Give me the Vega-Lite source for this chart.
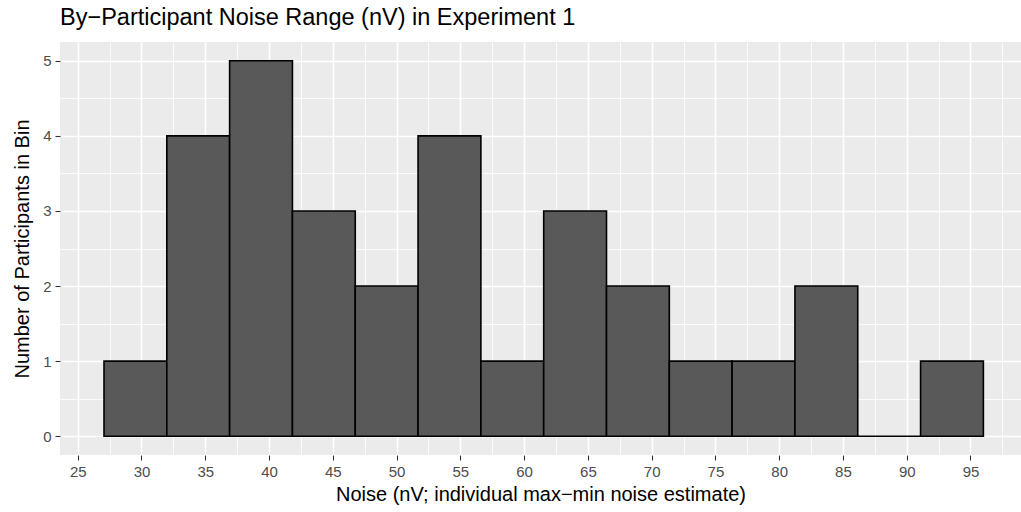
{
  "$schema": "https://vega.github.io/schema/vega-lite/v6.json",
  "width": 961,
  "height": 413,
  "autosize": {"type": "none"},
  "padding": {"left": 60, "top": 42, "right": 0, "bottom": 57},
  "background": "white",
  "title": {
    "text": "By−Participant Noise Range (nV) in Experiment 1",
    "anchor": "start",
    "frame": "group",
    "font": "Liberation Sans",
    "fontSize": 23.5,
    "fontWeight": "normal",
    "color": "black",
    "baseline": "alphabetic",
    "offset": 16,
    "dy": 22
  },
  "config": {
    "view": {"fill": "#EBEBEB", "stroke": null},
    "axis": {
      "domain": false,
      "gridColor": "white",
      "tickColor": "#333333",
      "tickWidth": 1.1,
      "tickSize": 5,
      "labelColor": "#4D4D4D",
      "labelFont": "Liberation Sans",
      "labelFontSize": 15,
      "labelPadding": 4,
      "titleFont": "Liberation Sans",
      "titleFontSize": 20,
      "titleFontWeight": "normal",
      "titleColor": "black"
    }
  },
  "data": {
    "values": [
      {"bin_start": 27.06, "bin_end": 31.985, "count": 1},
      {"bin_start": 31.985, "bin_end": 36.91, "count": 4},
      {"bin_start": 36.91, "bin_end": 41.835, "count": 5},
      {"bin_start": 41.835, "bin_end": 46.76, "count": 3},
      {"bin_start": 46.76, "bin_end": 51.685, "count": 2},
      {"bin_start": 51.685, "bin_end": 56.61, "count": 4},
      {"bin_start": 56.61, "bin_end": 61.535, "count": 1},
      {"bin_start": 61.535, "bin_end": 66.46, "count": 3},
      {"bin_start": 66.46, "bin_end": 71.385, "count": 2},
      {"bin_start": 71.385, "bin_end": 76.31, "count": 1},
      {"bin_start": 76.31, "bin_end": 81.235, "count": 1},
      {"bin_start": 81.235, "bin_end": 86.16, "count": 2},
      {"bin_start": 86.16, "bin_end": 91.085, "count": 0},
      {"bin_start": 91.085, "bin_end": 96.01, "count": 1}
    ]
  },
  "mark": {"type": "rect", "fill": "#595959", "stroke": "black", "strokeWidth": 1.6},
  "encoding": {
    "x": {
      "field": "bin_start",
      "type": "quantitative",
      "scale": {"domain": [23.61, 98.96], "nice": false, "zero": false},
      "axis": {
        "title": "Noise (nV; individual max−min noise estimate)",
        "titlePadding": 5,
        "values": [25, 27.5, 30, 32.5, 35, 37.5, 40, 42.5, 45, 47.5, 50, 52.5, 55, 57.5, 60, 62.5, 65, 67.5, 70, 72.5, 75, 77.5, 80, 82.5, 85, 87.5, 90, 92.5, 95, 97.5],
        "labelExpr": "datum.value % 5 === 0 ? '' + datum.value : ''",
        "gridWidth": {"condition": {"test": "datum.value % 5 === 0", "value": 1.6}, "value": 0.8},
        "tickOpacity": {"condition": {"test": "datum.value % 5 === 0", "value": 1}, "value": 0}
      }
    },
    "x2": {"field": "bin_end"},
    "y": {
      "field": "count",
      "type": "quantitative",
      "scale": {"domain": [-0.25, 5.25], "nice": false, "zero": false},
      "axis": {
        "title": "Number of Participants in Bin",
        "titlePadding": 10,
        "values": [0, 0.5, 1, 1.5, 2, 2.5, 3, 3.5, 4, 4.5, 5],
        "labelExpr": "datum.value % 1 === 0 ? '' + datum.value : ''",
        "gridWidth": {"condition": {"test": "datum.value % 1 === 0", "value": 1.6}, "value": 0.8},
        "tickOpacity": {"condition": {"test": "datum.value % 1 === 0", "value": 1}, "value": 0}
      }
    },
    "y2": {"datum": 0}
  }
}
